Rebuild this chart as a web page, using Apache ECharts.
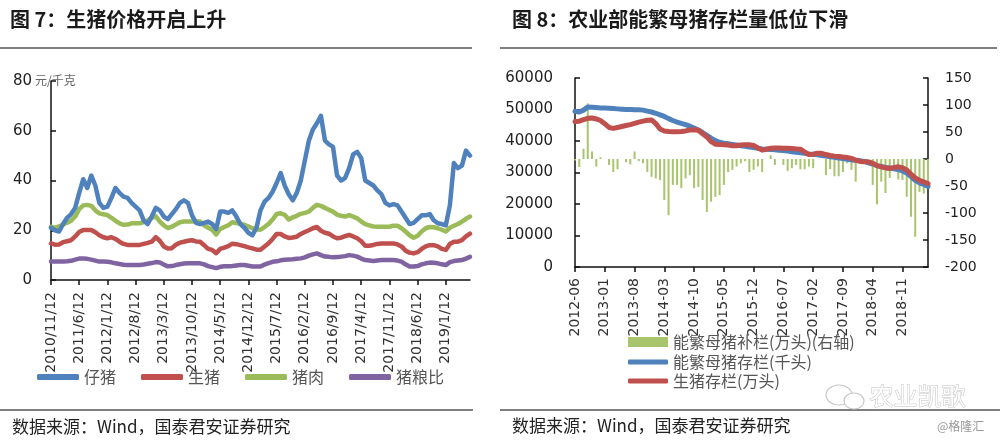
<!DOCTYPE html>
<html><head><meta charset="utf-8">
<script src="https://cdn.jsdelivr.net/npm/echarts@6/dist/echarts.min.js"></script>
<style>html,body{margin:0;padding:0;background:#fff}#c{width:1000px;height:441px}</style>
</head><body><div id="c"></div>
<script>
// ---------- Left chart (图7) : monthly categories 2010/11/12 .. 2019/7/12 ----------
const leftDates = [];
for (let y = 2010, m = 11; y < 2019 || (y === 2019 && m <= 7); m++) {
  if (m > 12) { m = 1; y++; }
  leftDates.push(y + '/' + m + '/12');
}
const piglet = [21,20,19.5,22.5,25,26.5,29,35,40.5,37,
42,38,31,29,29.5,33,37,35,33.5,33,
31,29.5,28,24,22.5,25.5,29,28,25.5,24.5,
26.5,28.5,31,32,31,26,23,22.5,23,23.5,
22.5,20.5,27.5,27.5,27,28,25.5,22.5,21,19,
18,21,28,31.5,33,35.5,39,43,38,34.5,
32,35,40,48,56,60.5,63,66,56,54.5,
53.5,42,40,41,45,50.5,51.5,49,40,39,
38,36,34.5,31,30,30.5,30,27.5,25,22.5,
23,24.5,26,26,26.5,24,22.8,22.5,22,30,
47,45,46,52,50];
const hog = [14.7,14.2,14.3,15.2,15.6,16,17.5,19.3,20.1,20.1,
20.1,19.2,18,17.2,16.8,17.2,16.5,15.4,14.5,14.1,
14.1,14.1,14.1,14.5,14.9,15.4,17.2,15.8,13.5,12.7,
12.8,14.2,15,15.4,15.8,16,15.5,15.4,14,12.5,
12.1,10.8,12.5,13,13.6,14.6,14.4,14,13.6,13.1,
12.7,12.2,12.2,13.5,14.8,16.5,18.5,18.5,17.5,16.9,
17.1,17.4,18.5,19.3,20,20.8,21.3,19.8,19,18.6,
17.5,16.8,17,17.6,18.1,17.5,16.8,15.6,13.8,13.8,
14.1,14.5,14.7,14.7,14.7,14.7,14.3,13.5,11.8,11,
10.7,11.2,12.5,13.5,14,14,13.5,12.5,12.1,14.5,
15.4,15.4,16,17.5,18.6];
const pork = [21.4,21,21.5,22.3,23,23.8,25.5,28.5,30,30.2,
29.8,28,26.8,26.4,26.1,25,23.8,22.8,22.2,22.3,
22.8,22.8,22.8,23.3,24,25,25.6,23.5,22,20.9,
21.4,22.3,23.2,23.5,23.5,23.5,23.5,23.5,22,21,
20.2,18.3,20.5,21.3,22,23.2,22.9,22.6,22.2,21.5,
20.8,20.3,20.2,21.3,22.5,24.3,26.5,26.8,26.2,24.3,
25.2,25.8,26.6,27,27.5,29,30.2,29.8,29,28.2,
27.5,26.3,25.8,25.5,26.1,25.5,24.8,23.5,22.5,22,
21.5,21.4,21.4,21.4,21.4,21.8,21.8,20.8,19.5,18,
17,17.8,19.5,20.8,21.3,21.2,20.8,20.2,19.5,21,
21.8,22.5,23.5,24.6,25.5];
const hogGrainRatio = [7.4,7.4,7.4,7.4,7.5,7.7,8.2,8.6,8.6,8.5,
8.2,7.8,7.4,7.4,7.3,7.1,6.7,6.4,6.1,6,
6,6,6,6.2,6.5,6.8,7.2,7,6.2,5.5,
5.6,6,6.3,6.6,6.7,6.7,6.7,6.7,6.3,5.6,
5.2,4.8,5.3,5.5,5.5,5.6,5.8,6,6,5.7,
5.4,5.4,5.4,6.2,6.8,7.3,7.5,7.9,8.1,8.2,
8.3,8.5,8.7,9.1,9.8,10.3,10.7,10,9.4,9.3,
9.1,9.2,9.4,9.6,10,9.8,9.4,8.6,8,7.8,
7.6,7.8,8,8,8,8,7.8,7.4,6.3,5.4,
5.4,5.6,6.3,6.7,7,6.9,6.7,6.3,6,7.2,
7.6,7.8,8,8.6,9.3];
const leftNames = ['仔猪','生猪','猪肉','猪粮比'];

// ---------- Right chart (图8) : monthly 2012-06 .. 2019-05 ----------
const rightMonths = [];
for (let y = 2012, m = 6; y < 2019 || (y === 2019 && m <= 5); m++) {
  if (m > 12) { m = 1; y++; }
  rightMonths.push(y + '-' + (m < 10 ? '0' + m : m));
}
const sowRestock = [-3,-15,19,103,14,-14,3,0,-11,-24,
-19,0,-6,-10,14,-4,-8,-24,-33,-36,
-39,-76,-104,-48,-48,-54,-36,-30,-54,-52,
-76,-98,-79,-70,-67,-48,-24,-20,-14,-8,
-4,-24,-20,-14,-24,0,7,-11,0,-11,
-22,-17,-11,-19,-19,-14,-17,0,0,-30,
-19,-32,-32,-24,-8,-20,-42,0,0,0,
-48,-84,-42,-63,-35,-11,-38,-39,-70,-107,
-144,-61,-64,-55];
const sowStock = [49400,49200,49800,50800,50700,50600,50500,50500,50400,50300,
50200,50100,50000,50000,49900,49900,49800,49500,49200,48800,
48300,47800,47100,46500,46000,45600,45200,44700,44100,43500,
42700,41800,40900,40100,39600,39300,39100,38900,38700,38500,
38300,38100,37900,37700,37500,37400,37300,37200,37100,37000,
36800,36600,36400,36300,36100,35900,35800,35600,35400,35200,
35000,34800,34600,34400,34200,34000,33900,33700,33500,33100,
32700,32200,31900,31600,31400,31200,30900,30500,29800,28700,
27500,26700,26200,25600];
const hogStock = [46200,46300,46800,47200,47300,47000,46500,45500,44300,44000,
44300,44600,44900,45200,45600,46000,46300,46600,46700,45500,
43800,43200,43000,42900,42900,43000,43200,43500,43600,43400,
42300,41300,39800,39000,38900,38800,38700,38500,38500,38700,
38800,38800,38600,37800,37100,37400,37700,37800,37800,37700,
37700,37600,37500,37400,36500,35700,35800,36100,36100,35700,
35400,35200,35100,34900,34800,34500,33900,33500,33400,33400,
33000,32200,31800,31500,31300,31600,31800,31500,30800,29500,
28300,27500,27000,26500];
const rightNames = ['能繁母猪补栏(万头)(右轴)','能繁母猪存栏(千头)','生猪存栏(万头)'];

// ---------- render ----------
const CJK = '"Noto Sans CJK SC", sans-serif';
const NUM = '"DejaVu Sans", sans-serif';
const AX = '#111';
const C = {blue:'#4f81bd', red:'#c0504d', green:'#9bbb59', purple:'#8064a2', bar:'#a8c46c'};
const plain = v => String(v);

function lineSeries(name, data, color, xi, yi, w) {
  return {name, type:'line', data, xAxisIndex:xi, yAxisIndex:yi, symbol:'none',
    itemStyle:{color}, lineStyle:{color, width:w, cap:'round', join:'round'}};
}

const chart = echarts.init(document.getElementById('c'));
chart.setOption({
  animation:false,
  textStyle:{fontFamily:CJK},
  grid:[
    {left:51, top:81, width:419, height:199},
    {left:575, top:78, width:353, height:189}
  ],
  xAxis:[
    {gridIndex:0, type:'category', data:leftDates, boundaryGap:false,
     axisLine:{onZero:false, lineStyle:{color:AX, width:1.5}},
     axisTick:{show:true, interval:6, length:5, lineStyle:{color:AX, width:1.5}},
     axisLabel:{interval:6, rotate:90, margin:12, fontSize:14, color:'#333', fontFamily:NUM},
     splitLine:{show:false}},
    {gridIndex:1, type:'category', data:rightMonths, boundaryGap:false,
     axisLine:{onZero:false, lineStyle:{color:AX, width:1.5}},
     axisTick:{show:true, interval:6, length:5, lineStyle:{color:AX, width:1.5}},
     axisLabel:{interval:6, rotate:90, margin:11, fontSize:14, color:'#333', fontFamily:NUM},
     splitLine:{show:false}}
  ],
  yAxis:[
    {gridIndex:0, type:'value', min:0, max:80, interval:20,
     axisLine:{show:true, lineStyle:{color:AX, width:1.5}},
     axisTick:{show:true, inside:true, length:5, lineStyle:{color:AX, width:1.5}},
     axisLabel:{margin:19, fontSize:15, color:'#222', fontFamily:NUM, formatter:plain},
     splitLine:{show:false}},
    {gridIndex:1, type:'value', min:0, max:60000, interval:10000,
     axisLine:{show:true, lineStyle:{color:AX, width:1.5}},
     axisTick:{show:true, inside:true, length:5, lineStyle:{color:AX, width:1.5}},
     axisLabel:{margin:22, fontSize:15, color:'#222', fontFamily:NUM, formatter:plain},
     splitLine:{show:false}},
    {gridIndex:1, type:'value', position:'right', min:-200, max:150, interval:50,
     axisLine:{show:true, onZero:false, lineStyle:{color:AX, width:1.5}},
     axisTick:{show:true, inside:true, length:5, lineStyle:{color:AX, width:1.5}},
     axisLabel:{margin:17, fontSize:14, color:'#222', fontFamily:NUM, formatter:plain},
     splitLine:{show:false}}
  ],
  legend:[
    {data:leftNames, left:37, top:369, padding:0, itemWidth:42, itemHeight:6, itemGap:25,
     icon:'roundRect', textStyle:{fontSize:16, color:'#555', fontFamily:CJK}},
    {data:[rightNames[0]], left:628, top:334, padding:0, itemWidth:40, itemHeight:10,
     icon:'rect', textStyle:{fontSize:16, color:'#555', fontFamily:CJK}},
    {data:[rightNames[1], rightNames[2]], orient:'vertical', left:628, top:354, padding:0,
     itemWidth:40, itemHeight:5, itemGap:3, icon:'roundRect',
     textStyle:{fontSize:16, color:'#555', fontFamily:CJK}}
  ],
  series:[
    lineSeries(leftNames[2], pork, C.green, 0, 0, 4.5),
    lineSeries(leftNames[1], hog, C.red, 0, 0, 4.5),
    lineSeries(leftNames[3], hogGrainRatio, C.purple, 0, 0, 4.5),
    lineSeries(leftNames[0], piglet, C.blue, 0, 0, 4.5),
    {name:rightNames[0], type:'bar', data:sowRestock, xAxisIndex:1, yAxisIndex:2,
     barWidth:2, itemStyle:{color:C.bar}},
    lineSeries(rightNames[1], sowStock, C.blue, 1, 1, 5),
    lineSeries(rightNames[2], hogStock, C.red, 1, 1, 5)
  ],
  graphic:[
    {type:'text', left:10, top:9, style:{text:'图 7：生猪价格开启上升', font:'bold 20px "Noto Sans CJK SC"', fill:'#1a1a1a'}},
    {type:'text', left:512, top:9, style:{text:'图 8：农业部能繁母猪存栏量低位下滑', font:'bold 20px "Noto Sans CJK SC"', fill:'#1a1a1a'}},
    {type:'line', shape:{x1:0, y1:48, x2:472, y2:48}, style:{stroke:'#555', lineWidth:1.5}},
    {type:'line', shape:{x1:500, y1:48, x2:997, y2:48}, style:{stroke:'#555', lineWidth:1.5}},
    {type:'line', shape:{x1:0, y1:410, x2:473, y2:410}, style:{stroke:'#555', lineWidth:1.5}},
    {type:'line', shape:{x1:500, y1:410, x2:1000, y2:410}, style:{stroke:'#555', lineWidth:1.5}},
    {type:'text', left:35, top:74, style:{text:'元/千克', font:'12px "Noto Sans CJK SC"', fill:'#666'}},
    {type:'text', left:12, top:418, style:{text:'数据来源：Wind，国泰君安证券研究', font:'17px "Noto Sans CJK SC"', fill:'#222'}},
    {type:'text', left:512, top:417, style:{text:'数据来源：Wind，国泰君安证券研究', font:'17px "Noto Sans CJK SC"', fill:'#222'}},
    {type:'text', left:937, top:420, style:{text:'@格隆汇', font:'12px "Noto Sans CJK SC"', fill:'#999'}},
    {type:'ellipse', shape:{cx:839, cy:395, rx:13, ry:10}, style:{fill:'none', stroke:'#c8c8c8', lineWidth:1.2}},
    {type:'ellipse', shape:{cx:854, cy:401, rx:10, ry:8}, style:{fill:'#fff', stroke:'#c8c8c8', lineWidth:1.2}},
    {type:'text', left:869, top:383, style:{text:'农业凯歌', font:'24px "Noto Sans CJK SC"', fill:'#fff', stroke:'#c4c4c4', lineWidth:1}}
  ]
});
</script>
</body></html>
